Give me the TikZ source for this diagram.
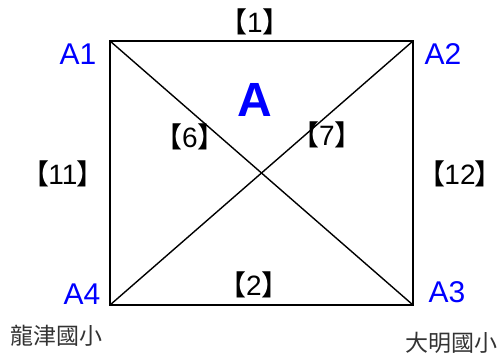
\documentclass[tikz,border=0pt]{standalone}
\usepackage{fontspec}
\setmainfont{Liberation Sans}
\newfontfamily\cjk{Noto Sans CJK TC}
\newfontfamily\brk[RawFeature=+palt]{Noto Sans CJK TC Medium}
\usetikzlibrary{positioning}
\newcommand{\segno}[1]{{\brk 【}#1{\brk 】}}

\begin{document}
\begin{tikzpicture}[
    x=1pt, y=-1pt,
    corner/.style={text=blue, inner sep=0pt, font=\fontsize{30}{30}\selectfont},
    seglabel/.style={inner sep=0pt, font=\fontsize{28}{28}\selectfont},
    school/.style={inner sep=0pt, text=black!80, font=\cjk\fontsize{23}{23}\selectfont},
    edge/.style={line width=1.4pt}
]
\useasboundingbox (0,0) rectangle (502,355);

% square corners
\coordinate (A1) at (110,41);
\coordinate (A2) at (413,41);
\coordinate (A3) at (413,305);
\coordinate (A4) at (110,305);

\draw[edge] (A1) -- (A2) -- (A3) -- (A4) -- cycle;
\draw[edge] (A1) -- (A3);
\draw[edge] (A2) -- (A4);

% corner names
\node[corner] (nA1) at (78,54) {A1};
\node[corner] (nA2) at (443,54) {A2};
\node[corner] (nA3) at (447,292) {A3};
\node[corner] (nA4) at (82,294) {A4};
\node[corner, font=\bfseries\fontsize{48}{48}\selectfont] (area) at (255,100) {A};

% segment numbers
\node[seglabel] (s1) at (255,22) {\segno{1}};
\node[seglabel] (s2) at (254,285) {\segno{2}};
\node[seglabel] (s6) at (190,137) {\segno{6}};
\node[seglabel] (s7) at (327,135) {\segno{7}};
\node[seglabel] (s11) at (63,174) {\segno{11}};
\node[seglabel] (s12) at (460,174) {\segno{12}};

% schools
\node[school] (west) at (56,336) {龍津國小};
\node[school] (east) at (451,343) {大明國小};
\end{tikzpicture}
\end{document}
